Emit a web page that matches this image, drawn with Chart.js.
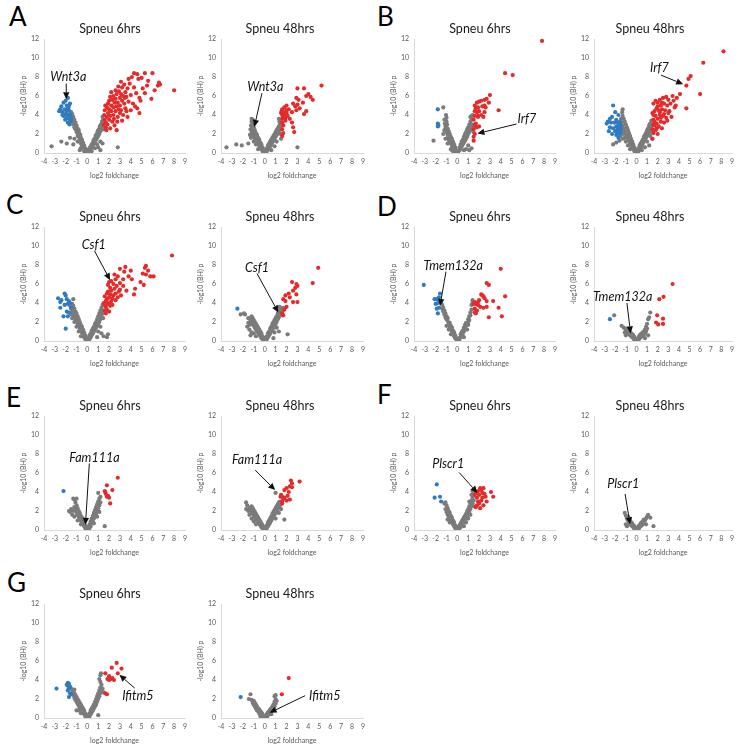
<!DOCTYPE html>
<html><head><meta charset="utf-8">
<script src="https://cdn.jsdelivr.net/npm/chart.js@4.4.1/dist/chart.umd.min.js"></script>
<style>
html,body{margin:0;padding:0;background:#fff;overflow:hidden;}
#fig{position:relative;width:741px;height:749px;background:#fff;}
#fig canvas{position:absolute;}
.lbl{position:absolute;font-family:Lato,sans-serif;font-size:26px;color:#000;line-height:26px;}
</style></head><body><div id="fig"></div>
<script>
// ---------- labels ----------
const xTickVals = [-4,-3,-2,-1,0,1,2,3,4,5,6,7,8,9];
const yTickVals = [0,2,4,6,8,10,12];
const panelLetters = ['A','B','C','D','E','F','G'];
const chartTitles = ['Spneu 6hrs','Spneu 48hrs'];
const xAxisTitle = 'log2 foldchange';
const yAxisTitle = '-log10 (BH) p';

// ---------- data: flat [x,y, x,y, ...] (log2 FC, -log10 BH p) ----------
const a6Gray = [-0.05,0.1,-0.1,0.3,-0.15,0.2,-0.2,0.5,-0.25,0.4,-0.3,0.8,-0.35,0.6,-0.4,1.1,-0.45,0.9,-0.5,1.4,-0.5,0.7,-0.55,1.2,-0.6,1.6,-0.6,1.0,-0.65,1.9,-0.7,1.4,-0.75,2.1,-0.8,1.7,-0.8,2.4,-0.85,2.0,-0.9,2.6,-0.9,1.8,-0.95,2.3,-1.0,2.9,-1.0,2.2,-1.05,2.6,-1.1,3.2,-1.1,2.5,-1.15,3.0,-1.2,3.5,-1.2,2.7,-1.25,3.2,-1.3,3.8,-1.3,3.0,-1.35,3.5,-1.4,4.1,-1.4,3.3,-1.45,3.8,-1.5,4.3,-1.5,3.5,-1.55,4.0,-1.6,3.7,
-0.3,0.2,-0.6,0.5,-0.9,1.2,-1.2,1.5,-1.3,0.9,-1.6,1.6,-1.9,1.0,-2.4,1.2,-3.3,0.7,-0.7,0.3,
0.05,0.1,0.1,0.2,0.15,0.4,0.2,0.3,0.25,0.6,0.3,0.5,0.35,0.8,0.4,0.6,0.45,1.0,0.5,0.8,0.55,1.3,0.6,1.0,0.65,1.5,0.7,1.2,0.75,1.8,0.8,1.4,0.85,2.0,0.9,1.6,0.95,2.3,1.0,1.8,1.05,2.5,1.1,2.0,1.15,2.8,1.2,2.3,1.25,3.0,1.3,2.5,1.35,3.3,1.4,2.8,1.45,3.5,1.5,3.0,1.4,3.8,1.5,2.5,
0.4,0.2,0.7,0.5,1.0,0.6,1.2,0.3,1.4,1.0,2.8,0.6,0.9,0.9,1.2,1.2];
const a6Red = [1.5,3.0,1.6,3.5,1.55,4.0,1.6,4.5,1.7,3.2,1.7,2.7,1.8,3.8,1.8,4.8,1.9,4.2,1.9,5.2,2.0,3.5,2.0,4.6,2.0,5.5,1.65,5.0,1.75,2.4,1.85,3.0,
2.1,2.6,2.1,3.9,2.2,4.4,2.2,5.0,2.3,5.6,2.3,3.3,2.4,4.0,2.4,4.8,2.4,6.0,2.5,5.3,2.5,2.9,2.1,5.9,2.2,6.4,2.45,3.6,
2.6,4.4,2.6,5.7,2.7,4.9,2.7,6.2,2.8,5.3,2.8,3.8,2.9,4.6,2.9,6.5,3.0,5.0,3.0,5.8,2.7,2.4,2.6,6.6,2.85,7.0,3.0,4.2,2.75,3.3,
3.1,6.2,3.1,4.5,3.2,5.5,3.2,6.9,3.3,4.0,3.3,6.0,3.4,5.2,3.4,7.2,3.5,6.4,3.5,4.7,3.2,3.4,3.1,7.5,3.45,5.8,
3.6,5.9,3.7,6.8,3.7,3.8,3.8,5.4,3.9,7.3,4.0,6.1,4.0,4.5,4.1,8.0,4.2,5.2,4.3,6.9,4.3,8.4,4.4,4.9,3.8,7.8,4.5,6.3,4.6,8.3,3.6,4.4,
4.6,4.7,4.7,7.8,4.8,5.8,4.9,5.5,5.0,7.9,5.1,6.8,5.3,8.4,5.3,6.3,5.6,7.6,5.5,7.1,4.8,4.2,5.9,5.7,6.0,8.4,6.2,6.6,
6.5,7.1,6.6,7.4,6.7,7.2,8.0,6.6];
const a6Blue = [-2.5,4.6,-2.3,4.3,-2.4,4.9,-2.2,5.3,-2.0,5.5,-1.8,5.8,-1.9,5.0,-1.7,5.0,-2.1,4.6,-1.9,4.4,-1.7,4.5,-2.0,4.1,-1.8,4.0,-1.6,4.1,-2.2,3.9,-1.9,3.7,-1.7,3.6,-1.6,3.3,-1.8,3.2,-1.65,3.0,-2.05,3.5,-1.55,3.8,-2.3,4.0,-1.75,4.8,-1.6,5.2,-2.6,4.4,-1.5,3.5,-1.85,4.6];

const a48Gray = [-0.05,0.1,-0.1,0.3,-0.2,0.2,-0.2,0.6,-0.3,0.4,-0.3,0.9,-0.4,0.6,-0.4,1.1,-0.5,0.8,-0.5,1.4,-0.6,1.0,-0.6,1.6,-0.7,1.2,-0.7,1.9,-0.8,1.4,-0.8,2.1,-0.85,1.7,-0.9,2.4,-0.9,1.5,-0.95,2.0,-1.0,2.7,-1.0,1.8,-1.05,2.3,-1.1,3.0,-1.1,2.0,-1.15,2.6,-1.2,3.3,-1.2,2.2,-1.25,2.9,-1.1,3.5,-1.2,3.6,-1.3,2.5,-1.35,1.9,-0.8,0.9,-0.6,0.4,-1.0,1.2,-1.5,1.0,-2.1,0.8,-2.6,0.9,-3.5,0.6,-1.25,1.6,
0.05,0.1,0.1,0.3,0.2,0.2,0.2,0.5,0.3,0.4,0.3,0.8,0.4,0.5,0.4,1.0,0.5,0.7,0.5,1.2,0.6,0.9,0.6,1.4,0.7,1.1,0.7,1.6,0.8,1.3,0.8,1.8,0.9,1.5,0.9,2.0,1.0,1.7,1.0,2.2,1.1,1.9,1.1,2.4,1.2,2.1,1.2,2.6,1.3,2.3,1.3,2.8,1.4,2.5,1.4,3.0,1.45,2.7,1.35,3.3,1.5,3.2,1.3,3.6,1.45,2.0,0.9,0.7,1.1,1.2,0.6,0.3,3.0,0.6,1.5,1.5];
const a48Red = [5.2,7.1,3.6,6.8,3.0,6.8,4.0,6.2,3.8,6.0,4.2,5.9,2.9,5.8,3.1,5.6,4.4,5.6,3.5,5.3,2.6,5.2,3.0,5.1,2.8,4.9,3.2,4.7,2.9,4.5,3.8,4.4,2.2,4.6,2.5,4.3,2.0,4.5,1.8,4.1,1.6,4.0,1.7,3.8,1.9,3.7,1.5,4.2,1.6,4.6,1.8,4.8,2.0,5.0,1.7,4.3,2.1,3.9,2.3,3.6,1.9,3.4,2.5,3.2,1.6,3.2,1.7,2.9,1.6,2.5,1.7,2.1,1.6,1.8,2.6,2.7,2.7,2.2,3.6,4.1,1.8,3.9,2.0,4.2,1.6,3.6,1.55,4.4];
const a48Blue = [];

const b6Gray = [-0.05,0.1,-0.1,0.3,-0.2,0.2,-0.2,0.6,-0.3,0.4,-0.3,0.9,-0.4,0.6,-0.4,1.2,-0.5,0.8,-0.5,1.5,-0.6,1.0,-0.6,1.7,-0.7,1.2,-0.7,2.0,-0.8,1.4,-0.8,2.3,-0.85,1.7,-0.9,2.6,-0.9,1.9,-0.95,3.0,-1.0,2.2,-1.0,3.3,-1.05,2.5,-1.0,3.7,-1.1,2.8,-1.05,4.0,-1.15,3.1,-1.2,2.4,-1.2,3.5,-1.3,4.8,-1.3,2.0,-1.1,1.5,-0.9,1.0,-2.2,1.3,-0.6,0.4,-0.4,0.2,-0.5,0.3,
0.05,0.1,0.1,0.2,0.2,0.3,0.2,0.6,0.3,0.5,0.3,0.9,0.4,0.7,0.4,1.2,0.5,0.9,0.5,1.4,0.6,1.1,0.6,1.7,0.7,1.3,0.7,2.0,0.8,1.5,0.8,2.2,0.9,1.7,0.9,2.5,1.0,2.0,1.0,2.7,1.1,2.2,1.1,3.0,1.2,2.4,1.2,3.3,1.3,2.7,1.3,3.6,1.4,3.0,1.35,3.9,1.4,4.0,1.45,2.6,1.2,3.8,1.1,0.3,0.8,0.4,1.3,0.5,1.0,0.8,0.6,0.3,1.5,2.2];
const b6Red = [7.8,11.8,4.4,8.4,5.1,8.2,3.0,6.1,2.7,5.7,2.5,5.6,2.2,5.5,2.0,5.4,1.8,5.3,1.6,5.0,2.5,5.0,2.3,4.9,1.9,4.8,1.7,4.7,2.9,5.3,2.6,4.8,3.8,4.5,1.6,4.4,1.8,4.3,2.0,4.4,2.5,4.3,2.2,4.0,1.6,3.9,1.9,3.8,2.4,3.8,1.5,3.5,1.7,3.1,1.6,2.9,1.8,2.7,1.5,2.5,2.0,2.8,1.6,2.0,1.5,1.7,1.5,1.3,1.9,3.9];
const b6Blue = [-1.8,4.6,-1.8,3.1,-1.75,2.9,-1.8,2.8];

const b48Gray = [-0.05,0.1,-0.1,0.3,-0.2,0.2,-0.2,0.6,-0.3,0.4,-0.3,0.9,-0.4,0.6,-0.4,1.2,-0.5,0.8,-0.5,1.5,-0.6,1.0,-0.6,1.8,-0.7,1.3,-0.7,2.1,-0.8,1.5,-0.8,2.4,-0.9,1.8,-0.9,2.7,-1.0,2.0,-1.0,3.0,-1.1,2.3,-1.1,3.3,-1.2,2.6,-1.2,3.6,-1.3,2.9,-1.3,3.9,-1.35,4.3,-1.3,4.6,-1.4,3.2,-1.4,2.2,-1.45,2.7,-1.2,2.0,-1.1,1.6,-1.0,1.2,-0.8,0.8,-1.3,1.5,-1.5,1.8,-1.6,1.3,-1.9,1.1,-2.2,0.9,-0.6,0.4,-1.45,3.6,-1.5,2.4,
0.05,0.1,0.1,0.3,0.2,0.2,0.2,0.5,0.3,0.4,0.3,0.8,0.4,0.6,0.4,1.0,0.5,0.8,0.5,1.2,0.6,1.0,0.6,1.4,0.7,1.2,0.7,1.7,0.8,1.4,0.8,1.9,0.9,1.6,0.9,2.1,1.0,1.8,1.0,2.4,1.1,2.0,1.1,2.6,1.2,2.2,1.2,2.9,1.3,2.5,1.3,3.1,1.4,2.8,1.4,3.4,1.5,3.0,1.45,2.2,1.3,1.8,1.0,1.2,0.8,0.6,1.2,0.8,1.5,1.5,0.5,0.3];
const b48Red = [8.2,10.7,6.3,9.5,5.1,8.1,4.9,7.8,4.7,7.1,6.0,6.2,4.7,4.7,4.1,6.2,3.8,5.8,3.5,5.5,3.4,6.0,3.0,5.6,2.8,5.9,2.5,5.8,2.2,5.6,3.2,5.2,2.9,5.0,2.6,5.2,2.3,5.0,2.0,5.3,1.8,5.5,1.6,5.2,2.4,4.6,2.7,4.5,3.1,4.4,3.6,4.8,2.1,4.5,1.9,4.7,1.7,4.4,1.5,4.2,2.2,4.0,2.5,3.9,2.8,3.7,3.3,3.8,1.8,3.9,2.0,3.6,1.6,3.5,2.3,3.3,2.6,3.2,1.9,3.1,1.7,2.9,2.1,2.8,1.5,2.5,1.8,2.4,2.0,2.0,1.6,2.1,1.5,1.5,2.4,2.6,1.7,3.3,2.2,4.3,2.0,4.9,2.6,4.1,3.0,4.2,1.6,3.0,2.9,3.4,1.9,2.6,2.3,3.7,1.6,4.0,2.4,5.3,3.7,5.0];
const b48Blue = [-2.2,5.0,-2.0,4.3,-1.7,4.0,-2.3,3.8,-2.5,3.6,-1.9,3.5,-2.8,3.1,-2.7,3.3,-2.4,3.2,-2.1,3.2,-1.8,3.2,-1.6,3.0,-2.5,2.7,-2.2,2.6,-1.9,2.8,-1.7,2.6,-1.5,2.8,-2.0,2.3,-1.8,2.4,-1.6,2.3,-1.5,2.5,-2.3,2.0,-1.9,1.9,-1.6,2.0,-1.7,1.6,-1.5,2.2,-1.6,2.7,-1.8,2.1,-2.6,2.3,-1.55,3.3];

const c6Gray = [-0.05,0.1,-0.1,0.3,-0.2,0.2,-0.2,0.6,-0.3,0.4,-0.3,0.9,-0.4,0.7,-0.4,1.2,-0.5,0.9,-0.5,1.5,-0.6,1.1,-0.6,1.7,-0.7,1.3,-0.7,2.0,-0.8,1.6,-0.8,2.3,-0.9,1.8,-0.9,2.6,-1.0,2.1,-1.0,2.9,-1.1,2.3,-1.1,3.1,-1.2,2.6,-1.2,3.4,-1.3,2.9,-1.3,3.7,-1.4,3.1,-1.4,3.9,-1.5,3.4,-1.3,4.4,-1.5,2.8,-1.2,2.0,-1.0,1.5,-0.8,1.0,-1.4,2.4,-0.6,0.5,-1.6,3.7,
0.05,0.1,0.1,0.3,0.2,0.2,0.2,0.6,0.3,0.4,0.3,0.8,0.4,0.6,0.4,1.1,0.5,0.8,0.5,1.3,0.6,1.0,0.6,1.5,0.7,1.2,0.7,1.8,0.8,1.4,0.8,2.0,0.9,1.6,0.9,2.3,1.0,1.8,1.0,2.6,1.1,2.0,1.1,2.9,1.2,2.3,1.2,3.2,1.3,2.6,1.3,3.5,1.4,2.9,1.4,3.8,1.5,3.2,1.45,2.4,1.2,1.5,1.0,1.0,0.9,0.4,1.5,0.5,1.9,0.7,1.8,0.4,1.3,0.8];
const c6Red = [7.8,9.0,5.4,7.9,5.3,7.7,5.6,7.4,5.4,7.0,6.1,6.8,5.8,6.8,5.1,7.1,3.5,7.8,3.0,7.6,3.4,7.3,4.0,7.4,2.5,7.0,2.8,6.8,3.8,6.8,4.1,6.5,3.3,6.5,2.6,6.5,2.2,6.3,2.0,6.2,3.0,6.1,2.4,6.0,2.7,5.8,4.9,6.2,5.2,5.9,1.9,5.9,2.1,5.6,2.5,5.5,3.0,5.4,2.2,5.3,1.9,5.2,2.6,5.0,3.1,4.8,4.3,4.9,3.6,5.3,1.8,5.0,2.1,4.9,2.4,4.8,2.8,4.6,1.6,4.7,2.0,4.6,1.8,4.4,2.3,4.5,1.7,4.2,1.5,4.0,2.2,4.2,2.6,4.3,1.6,3.8,1.9,3.9,2.1,3.7,1.7,3.6,1.8,3.3,2.0,3.1,1.7,2.9,1.6,3.2,2.3,3.8,2.0,4.0,3.3,5.8,4.4,5.5,2.9,5.2];
const c6Blue = [-2.7,4.5,-2.4,4.3,-2.5,4.1,-2.1,5.0,-2.0,4.8,-1.9,4.4,-1.7,4.2,-2.1,3.8,-1.8,3.9,-1.6,4.0,-2.5,3.5,-1.9,3.1,-1.7,3.0,-2.2,2.6,-1.8,2.6,-1.5,3.5,-2.0,1.3];

const c48Gray = [-0.05,0.1,-0.1,0.3,-0.2,0.2,-0.2,0.5,-0.3,0.3,-0.3,0.8,-0.4,0.5,-0.4,1.0,-0.5,0.7,-0.5,1.2,-0.6,0.9,-0.6,1.4,-0.7,1.0,-0.7,1.6,-0.8,1.2,-0.8,1.8,-0.9,1.4,-0.9,2.0,-1.0,1.6,-1.0,2.2,-1.1,1.8,-1.1,2.4,-1.2,2.0,-1.2,2.6,-1.3,2.2,-1.35,1.7,-1.5,1.9,-1.6,1.5,-1.4,1.2,-1.2,0.9,-1.0,0.8,-0.8,0.5,-1.9,2.9,-1.8,2.8,-2.2,2.8,-1.3,0.6,-1.5,2.4,
0.05,0.1,0.1,0.3,0.2,0.2,0.2,0.5,0.3,0.4,0.3,0.8,0.4,0.6,0.4,1.0,0.5,0.8,0.5,1.3,0.6,1.0,0.6,1.5,0.7,1.2,0.7,1.8,0.8,1.4,0.8,2.0,0.9,1.6,0.9,2.2,1.0,1.8,1.0,2.4,1.1,2.0,1.1,2.6,1.2,2.3,1.2,2.9,1.3,2.5,1.3,3.1,1.4,2.8,1.4,3.3,1.5,3.0,1.5,3.5,1.6,3.2,1.7,3.5,1.35,3.6,1.6,2.7,1.1,1.4,0.9,0.9,2.1,0.7,0.8,0.3,1.3,1.0];
const c48Red = [4.9,7.7,4.4,6.1,2.5,6.2,2.9,6.0,3.0,5.8,2.8,5.6,2.6,5.3,2.2,5.0,1.9,4.8,1.7,4.4,2.9,4.9,3.0,4.1,2.3,4.6,1.9,4.2,2.0,3.6,1.8,3.3,1.6,2.9,1.7,2.7,2.6,4.1];
const c48Blue = [-2.5,3.4];

const d6Gray = [-0.05,0.1,-0.1,0.2,-0.2,0.3,-0.2,0.6,-0.3,0.5,-0.3,0.9,-0.4,0.8,-0.4,1.1,-0.5,1.0,-0.5,1.4,-0.6,1.3,-0.6,1.6,-0.7,1.5,-0.7,1.9,-0.8,1.8,-0.9,2.1,-0.9,2.4,-1.0,2.3,-1.0,2.6,-1.1,2.5,-1.1,2.9,-1.2,2.8,-1.2,3.2,-1.3,3.1,-1.3,3.5,-1.4,3.4,-1.4,3.8,-1.5,4.0,-0.8,1.2,-1.0,1.6,-0.6,0.7,
0.05,0.1,0.1,0.3,0.2,0.2,0.3,0.4,0.3,0.7,0.4,0.6,0.4,0.9,0.5,0.8,0.5,1.1,0.6,1.0,0.6,1.4,0.7,1.3,0.7,1.7,0.8,1.6,0.8,1.9,0.9,1.8,1.0,2.0,1.0,2.3,1.1,2.2,1.1,2.6,1.2,2.7,1.2,3.0,1.3,3.3,1.3,3.8,1.4,4.1,1.4,4.3,0.9,1.2,0.6,0.4,1.0,1.7];
const d6Red = [4.0,7.6,2.7,6.1,2.9,5.9,4.4,4.7,2.2,4.9,2.3,4.8,2.5,4.5,2.0,4.3,1.9,4.1,1.6,4.1,1.7,3.9,2.1,3.6,1.5,3.9,1.6,3.4,1.8,3.2,1.6,3.0,1.7,2.9,2.4,3.5,2.7,3.6,3.3,4.2,3.8,3.5,2.9,2.5,4.1,2.6,2.4,4.7,2.7,4.2,1.9,3.8];
const d6Blue = [-3.1,5.9,-1.6,5.0,-1.7,4.6,-1.9,4.4,-1.6,4.2,-1.8,4.0,-2.0,3.9,-1.7,3.5,-1.9,3.4,-1.8,2.9,-2.1,4.4];

const d48Gray = [-0.05,0.1,-0.1,0.2,-0.2,0.1,-0.2,0.4,-0.3,0.3,-0.3,0.6,-0.4,0.4,-0.4,0.7,-0.5,0.5,-0.5,0.8,-0.6,0.6,-0.6,0.9,-0.7,0.7,-0.7,1.0,-0.8,0.8,-0.8,1.1,-0.9,1.0,-0.9,1.3,-1.0,1.2,-1.0,0.6,-1.2,1.4,-1.4,1.6,-2.1,2.7,-1.1,0.9,
0.05,0.1,0.1,0.2,0.2,0.1,0.2,0.4,0.3,0.3,0.3,0.6,0.4,0.4,0.4,0.7,0.5,0.5,0.5,0.8,0.6,0.6,0.6,0.9,0.7,0.7,0.7,1.0,0.8,0.8,0.8,1.2,0.9,1.0,0.9,1.5,1.0,1.3,1.0,1.8,1.1,2.3,1.2,2.5,1.3,3.0,0.8,0.3,1.1,0.6];
const d48Red = [3.4,6.0,2.55,4.65,2.15,4.4,1.95,2.7,2.5,2.35,1.85,1.95,2.05,1.75,2.5,1.8];
const d48Blue = [-2.5,2.3];

const e6Gray = [-0.05,0.1,-0.1,0.3,-0.2,0.2,-0.2,0.5,-0.3,0.4,-0.3,0.8,-0.4,0.6,-0.4,1.0,-0.5,0.8,-0.5,1.3,-0.6,1.0,-0.6,1.5,-0.7,1.2,-0.7,1.8,-0.8,1.4,-0.8,2.0,-0.9,1.6,-0.9,2.3,-1.0,1.8,-1.0,2.6,-1.1,2.1,-1.1,2.9,-1.2,2.4,-1.2,3.2,-1.3,3.3,-1.0,3.3,-1.3,2.0,-1.5,2.2,-1.6,1.9,-1.7,2.0,-1.4,1.6,-1.2,1.4,-0.9,1.0,-0.6,0.6,
0.05,0.1,0.1,0.3,0.2,0.2,0.2,0.6,0.3,0.4,0.3,0.9,0.4,0.7,0.4,1.2,0.5,0.9,0.5,1.5,0.6,1.2,0.6,1.8,0.7,1.5,0.7,2.1,0.8,1.7,0.8,2.4,0.9,2.0,0.9,2.7,1.0,2.3,1.0,3.0,1.1,2.6,1.1,3.3,1.0,3.9,1.2,2.9,1.2,3.5,0.9,1.4,0.6,0.7,1.6,0.4,1.1,1.9];
const e6Red = [2.8,5.5,1.8,4.7,2.3,4.2,1.6,4.1,1.7,3.8,1.9,3.6,1.8,3.5,2.0,3.4,2.1,2.8,1.65,4.0];
const e6Blue = [-2.2,4.1];

const e48Gray = [-0.05,0.1,-0.1,0.3,-0.2,0.2,-0.2,0.5,-0.3,0.3,-0.3,0.7,-0.4,0.5,-0.4,0.9,-0.5,0.6,-0.5,1.1,-0.6,0.8,-0.6,1.3,-0.7,1.0,-0.7,1.5,-0.8,1.1,-0.8,1.7,-0.9,1.3,-0.9,1.9,-1.0,1.5,-1.0,2.1,-1.1,1.7,-1.1,2.3,-1.2,1.9,-1.2,2.5,-1.3,2.1,-1.4,2.3,-1.5,2.0,-1.6,2.6,-1.7,2.2,-1.4,1.6,-1.2,1.2,-1.0,0.9,-1.7,2.9,-0.8,0.6,
0.05,0.1,0.1,0.3,0.2,0.2,0.2,0.5,0.3,0.4,0.3,0.8,0.4,0.6,0.4,1.0,0.5,0.8,0.5,1.2,0.6,1.0,0.6,1.4,0.7,1.2,0.7,1.7,0.8,1.4,0.8,1.9,0.9,1.6,0.9,2.1,1.0,1.8,1.0,2.3,1.1,2.0,1.1,2.5,1.2,2.2,1.2,2.7,1.3,2.4,1.3,2.9,1.4,2.6,1.4,3.0,1.5,2.8,1.0,3.9,1.8,1.1,1.3,1.8,1.0,1.2,1.5,2.2];
const e48Red = [3.2,5.1,2.4,5.2,2.5,4.9,2.3,4.6,2.5,4.5,2.0,4.4,1.8,4.2,2.2,4.0,1.5,3.7,1.6,3.5,1.8,3.4,1.7,3.3,2.0,3.1,1.6,3.0,1.6,2.8,2.3,3.2,2.1,3.6,1.45,3.5];
const e48Blue = [];

const f6Gray = [-0.05,0.1,-0.1,0.3,-0.2,0.2,-0.2,0.5,-0.3,0.4,-0.3,0.8,-0.4,0.6,-0.4,1.0,-0.5,0.8,-0.5,1.3,-0.6,1.0,-0.6,1.5,-0.7,1.2,-0.7,1.8,-0.8,1.4,-0.8,2.0,-0.9,1.6,-0.9,2.3,-1.0,1.9,-1.0,2.6,-1.1,2.9,-1.2,2.8,-1.1,2.2,-0.7,0.8,-0.9,1.1,
0.05,0.1,0.1,0.3,0.2,0.2,0.2,0.5,0.3,0.3,0.3,0.7,0.4,0.5,0.4,0.9,0.5,0.7,0.5,1.1,0.6,0.9,0.6,1.3,0.7,1.1,0.7,1.5,0.8,1.3,0.8,1.7,0.9,1.5,0.9,2.0,1.0,1.7,1.0,2.2,1.1,1.9,1.1,2.5,1.2,2.2,1.2,2.8,1.3,2.5,1.3,3.1,1.4,2.8,1.4,3.4,1.5,3.1,1.5,3.7,1.4,4.1,1.3,3.7,1.2,1.6,1.0,1.2,0.8,0.8,1.5,2.5,1.1,3.0,0.6,0.4];
const f6Red = [2.1,4.4,2.4,4.4,2.2,4.2,1.9,4.1,1.7,3.9,2.5,3.8,2.0,3.7,3.1,4.0,3.3,3.5,2.6,3.5,2.3,3.4,1.8,3.4,2.2,3.1,1.9,3.0,2.0,2.8,1.8,2.6,2.4,2.6,1.7,2.4,2.1,2.3,2.7,3.0,1.6,3.7,2.3,3.9];
const f6Blue = [-1.9,4.8,-2.1,3.4,-1.6,3.5,-1.5,3.0];

const f48Gray = [-0.05,0.1,-0.1,0.2,-0.2,0.1,-0.2,0.4,-0.3,0.3,-0.3,0.5,-0.4,0.4,-0.4,0.7,-0.5,0.5,-0.5,0.8,-0.6,0.6,-0.6,1.0,-0.7,0.8,-0.7,1.2,-0.8,1.0,-0.8,1.4,-0.9,1.2,-1.0,1.5,-1.1,1.8,-1.0,0.6,-0.9,0.4,
0.05,0.1,0.1,0.2,0.2,0.1,0.2,0.4,0.3,0.3,0.3,0.5,0.4,0.4,0.4,0.7,0.5,0.5,0.5,0.8,0.6,0.6,0.6,0.9,0.7,0.8,0.7,1.1,0.8,1.0,0.9,1.2,1.0,1.4,1.1,1.6,1.3,1.3,1.6,0.4,0.9,0.6];
const f48Red = [];
const f48Blue = [];

const g6Gray = [-0.05,0.1,-0.1,0.3,-0.2,0.2,-0.2,0.5,-0.3,0.4,-0.3,0.8,-0.4,0.6,-0.4,1.0,-0.5,0.8,-0.5,1.2,-0.6,1.0,-0.6,1.4,-0.7,1.1,-0.7,1.6,-0.8,1.3,-0.8,1.8,-0.9,1.5,-0.9,2.0,-1.0,1.7,-1.0,2.2,-1.1,1.9,-1.1,2.4,-1.2,2.1,-1.2,2.6,-1.3,2.4,-1.3,2.8,-1.4,2.6,-1.4,3.0,-1.5,3.1,-1.2,3.0,-1.0,0.8,-0.8,0.8,-0.6,0.5,
0.05,0.1,0.1,0.3,0.2,0.2,0.2,0.5,0.3,0.4,0.3,0.8,0.4,0.6,0.4,1.0,0.5,0.8,0.5,1.2,0.6,1.0,0.6,1.4,0.7,1.2,0.7,1.7,0.8,1.4,0.8,2.0,0.9,1.7,0.9,2.3,1.0,2.0,1.0,2.6,1.1,2.3,1.1,2.9,1.2,2.6,1.2,3.2,1.3,2.9,1.3,3.5,1.2,3.8,1.1,4.1,1.2,4.5,1.25,4.7,1.4,3.1,1.0,0.3,1.5,2.7];
const g6Red = [2.7,5.8,2.25,5.3,3.15,5.2,1.65,4.7,2.0,4.4,2.3,4.2,2.45,4.0,2.0,4.0,2.15,4.1,1.85,4.1,2.8,4.7,1.65,2.6,1.8,2.5];
const g6Blue = [-2.85,3.1,-1.8,3.7,-1.7,3.6,-1.8,3.4,-1.6,3.3,-1.7,3.1,-1.8,2.9,-1.6,2.6,-1.5,2.5,-1.7,2.2,-1.9,3.5];

const g48Gray = [-0.05,0.1,-0.1,0.2,-0.2,0.1,-0.2,0.4,-0.3,0.3,-0.3,0.6,-0.4,0.4,-0.4,0.7,-0.5,0.5,-0.5,0.9,-0.6,0.7,-0.6,1.0,-0.7,0.8,-0.7,1.2,-0.8,1.0,-0.8,1.4,-0.9,1.2,-0.9,1.6,-1.0,1.4,-1.0,1.8,-1.1,1.6,-1.2,1.9,-1.3,2.5,-1.45,2.0,-0.4,0.2,
0.05,0.1,0.1,0.2,0.2,0.1,0.2,0.4,0.3,0.3,0.3,0.6,0.4,0.4,0.4,0.7,0.5,0.5,0.5,0.9,0.6,0.7,0.6,1.0,0.7,0.8,0.7,1.2,0.8,1.0,0.8,1.4,0.9,1.2,0.9,1.7,1.0,1.5,1.0,2.0,0.9,2.3,1.0,2.4,1.1,1.8,0.6,0.4];
const g48Red = [2.2,4.2,1.57,2.5];
const g48Blue = [-2.2,2.2];

// ---------- gene callouts (data coordinates) ----------
const notes = {
  A6:{label:'Wnt3a',at:[-1.75,8.0],from:[-1.95,7.3],to:[-1.95,5.65]},
  A48:{label:'Wnt3a',at:[0.05,6.9],from:[-0.25,6.3],to:[-0.95,2.75]},
  B6:{label:'Irf7',at:[6.4,3.6],from:[5.45,3.05],to:[1.85,2.05]},
  B48:{label:'Irf7',at:[2.15,8.9],from:[2.3,8.2],to:[4.4,7.25]},
  C6:{label:'Csf1',at:[0.58,10.1],from:[0.65,9.5],to:[2.1,6.4]},
  C48:{label:'Csf1',at:[-0.7,7.65],from:[-0.7,7.1],to:[1.25,3.0]},
  D6:{label:'Tmem132a',at:[-0.38,7.9],from:[-1.05,7.3],to:[-1.6,3.7]},
  D48:{label:'Tmem132a',at:[-1.3,4.6],from:[-0.9,4.0],to:[-0.55,0.8]},
  E6:{label:'Fam111a',at:[0.65,7.6],from:[0.18,7.0],to:[-0.18,0.55]},
  E48:{label:'Fam111a',at:[-0.7,7.4],from:[-0.87,6.3],to:[0.96,4.2]},
  F6:{label:'Plscr1',at:[-0.85,6.9],from:[0.17,6.05],to:[1.85,3.9]},
  F48:{label:'Plscr1',at:[-1.25,4.8],from:[-1.07,3.8],to:[-0.6,0.6]},
  G6:{label:'Ifitm5',at:[4.65,2.3],from:[4.35,3.15],to:[2.95,4.55]},
  G48:{label:'Ifitm5',at:[5.5,2.3],from:[3.7,2.35],to:[0.45,0.55]}
};

// ---------- layout ----------
const colPlotLeft = [44,221,414,594];
const colPlotW = [141,142,141,138];
const rowPlotTop = [39,227,416,604];
const plotH = 114;
const titleShift = [4.5,12,4.5,13];
const letterPos = [[9,3],[377,3],[6,191],[377,193],[6,384],[377,381],[7,569]];
const COLORS = {gray:'#7b7b7b', red:'#e42b2b', blue:'#2f7bbf'};

const panels = [
  {id:'A6',row:0,col:0,t:0,gray:a6Gray,red:a6Red,blue:a6Blue},
  {id:'A48',row:0,col:1,t:1,gray:a48Gray,red:a48Red,blue:a48Blue},
  {id:'B6',row:0,col:2,t:0,gray:b6Gray,red:b6Red,blue:b6Blue},
  {id:'B48',row:0,col:3,t:1,gray:b48Gray,red:b48Red,blue:b48Blue},
  {id:'C6',row:1,col:0,t:0,gray:c6Gray,red:c6Red,blue:c6Blue},
  {id:'C48',row:1,col:1,t:1,gray:c48Gray,red:c48Red,blue:c48Blue},
  {id:'D6',row:1,col:2,t:0,gray:d6Gray,red:d6Red,blue:d6Blue},
  {id:'D48',row:1,col:3,t:1,gray:d48Gray,red:d48Red,blue:d48Blue},
  {id:'E6',row:2,col:0,t:0,gray:e6Gray,red:e6Red,blue:e6Blue},
  {id:'E48',row:2,col:1,t:1,gray:e48Gray,red:e48Red,blue:e48Blue},
  {id:'F6',row:2,col:2,t:0,gray:f6Gray,red:f6Red,blue:f6Blue},
  {id:'F48',row:2,col:3,t:1,gray:f48Gray,red:f48Red,blue:f48Blue},
  {id:'G6',row:3,col:0,t:0,gray:g6Gray,red:g6Red,blue:g6Blue},
  {id:'G48',row:3,col:1,t:1,gray:g48Gray,red:g48Red,blue:g48Blue}
];

function pts(a){ const r=[]; for(let i=0;i<a.length;i+=2) r.push({x:a[i],y:a[i+1]}); return r; }

const calloutPlugin = {
  id:'callout',
  afterDatasetsDraw(chart, args, opts){
    const n = opts.note; if(!n) return;
    const xs = chart.scales.x, ys = chart.scales.y, ctx = chart.ctx;
    const px = v => xs.getPixelForValue(v), py = v => ys.getPixelForValue(v);
    ctx.save();
    ctx.font = 'italic 12.5px Lato, "Open Sans", sans-serif';
    ctx.fillStyle = '#111'; ctx.textAlign='center'; ctx.textBaseline='middle';
    ctx.fillText(n.label, px(n.at[0]), py(n.at[1]));
    const x1=px(n.from[0]), y1=py(n.from[1]), x2=px(n.to[0]), y2=py(n.to[1]);
    const a=Math.atan2(y2-y1,x2-x1), L=7, W=3.2;
    const bx=x2-L*Math.cos(a), by=y2-L*Math.sin(a);
    ctx.strokeStyle='#111'; ctx.lineWidth=1;
    ctx.beginPath(); ctx.moveTo(x1,y1); ctx.lineTo(bx,by); ctx.stroke();
    ctx.beginPath(); ctx.moveTo(x2,y2);
    ctx.lineTo(bx+W*Math.sin(a), by-W*Math.cos(a));
    ctx.lineTo(bx-W*Math.sin(a), by+W*Math.cos(a));
    ctx.closePath(); ctx.fill();
    ctx.restore();
  }
};
const titleShiftPlugin = {
  id:'titleShift',
  afterLayout(chart, args, opts){
    const t = chart.titleBlock;
    if(t && opts.dx){ t.left -= opts.dx; t.right -= opts.dx; }
  }
};

const fig = document.getElementById('fig');
panelLetters.forEach((L,i)=>{
  const d=document.createElement('div'); d.className='lbl'; d.textContent=L;
  d.style.left=letterPos[i][0]+'px'; d.style.top=letterPos[i][1]+'px'; fig.appendChild(d);
});

const Y_W = 34, X_H = 30, T_H = 22, PAD_R = 8;
const tickFont = {family:'Lato, "Open Sans", sans-serif', size:7};

panels.forEach(p=>{
  const cv = document.createElement('canvas');
  const w = Y_W + colPlotW[p.col] + PAD_R, h = T_H + plotH + X_H;
  cv.width = w; cv.height = h;
  cv.style.width = w+'px'; cv.style.height = h+'px';
  cv.style.left = (colPlotLeft[p.col]-Y_W)+'px';
  cv.style.top = (rowPlotTop[p.row]-T_H)+'px';
  fig.appendChild(cv);
  const ds = (arr,col)=>({data:pts(arr), backgroundColor:col, borderWidth:0, pointRadius:2.1, pointHoverRadius:2.1});
  new Chart(cv, {
    type:'scatter',
    data:{datasets:[ds(p.red,COLORS.red), ds(p.blue,COLORS.blue), ds(p.gray,COLORS.gray)]},
    plugins:[calloutPlugin, titleShiftPlugin],
    options:{
      responsive:false, animation:false, devicePixelRatio:1,
      layout:{padding:{left:0,right:PAD_R,top:0,bottom:0}},
      events:[],
      plugins:{
        legend:{display:false}, tooltip:{enabled:false},
        title:{display:true, text:chartTitles[p.t], fullSize:false, color:'#1a1a1a',
               font:{family:'Lato, "Open Sans", sans-serif', size:12.5, weight:'normal', lineHeight:1.2},
               padding:{top:4,bottom:3}},
        callout:{note:notes[p.id]},
        titleShift:{dx:titleShift[p.col]}
      },
      scales:{
        x:{type:'linear', min:-4, max:9,
           afterBuildTicks(s){ s.ticks = xTickVals.map(v=>({value:v})); },
           afterFit(s){ s.height = X_H; },
           grid:{display:false, drawTicks:false},
           border:{display:true, color:'#d9d9d9', width:1},
           ticks:{font:tickFont, color:'#595959', padding:5, maxRotation:0, autoSkip:false},
           title:{display:true, text:xAxisTitle, font:tickFont, color:'#595959', padding:{top:0,bottom:3}}},
        y:{type:'linear', min:0, max:12,
           afterBuildTicks(s){ s.ticks = yTickVals.map(v=>({value:v})); },
           afterFit(s){ s.width = Y_W; },
           grid:{display:false, drawTicks:false},
           border:{display:true, color:'#d9d9d9', width:1},
           ticks:{font:tickFont, color:'#595959', padding:5, autoSkip:false},
           title:{display:true, text:yAxisTitle, font:tickFont, color:'#595959', padding:{top:10,bottom:0}}}
      }
    }
  });
});
</script></body></html>
